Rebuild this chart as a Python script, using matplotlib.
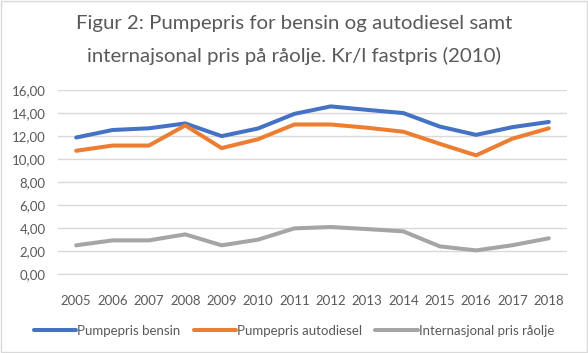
import matplotlib.pyplot as plt
from matplotlib.patches import Rectangle

plt.rcParams['font.family'] = ['Lato', 'DejaVu Sans']

years = ['2005', '2006', '2007', '2008', '2009', '2010', '2011',
         '2012', '2013', '2014', '2015', '2016', '2017', '2018']
bensin = [11.85, 12.5, 12.65, 13.07, 11.97, 12.63, 13.9,
          14.55, 14.25, 13.97, 12.8, 12.08, 12.75, 13.2]
diesel = [10.7, 11.15, 11.15, 12.9, 10.93, 11.7, 12.98,
          12.98, 12.7, 12.35, 11.3, 10.3, 11.75, 12.65]
olje = [2.49, 2.92, 2.92, 3.44, 2.49, 2.98, 3.96,
        4.08, 3.9, 3.7, 2.4, 2.05, 2.5, 3.1]

txt = '#595959'
fig = plt.figure(figsize=(5.88, 3.53), dpi=100)
ax = fig.add_axes([58 / 588, 1 - 274 / 353, (567 - 58) / 588, (274 - 89.7) / 353])

x = range(len(years))
ax.plot(x, bensin, color='#4472C4', lw=2.9, label='Pumpepris bensin', solid_capstyle='round')
ax.plot(x, diesel, color='#ED7D31', lw=2.9, label='Pumpepris autodiesel', solid_capstyle='round')
ax.plot(x, olje, color='#A5A5A5', lw=2.9, label='Internasjonal pris råolje', solid_capstyle='round')

ax.set_xlim(-0.5, len(years) - 0.5)
ax.set_ylim(0, 16)
ax.set_yticks(range(0, 17, 2))
ax.set_yticklabels([f'{v},00' for v in range(0, 17, 2)])
ax.set_xticks(list(x))
ax.set_xticklabels(years)
ax.grid(axis='y', color='#D9D9D9', lw=1)
ax.set_axisbelow(True)
for s in ['top', 'right', 'left']:
    ax.spines[s].set_visible(False)
ax.spines['bottom'].set_color('#D9D9D9')
ax.tick_params(length=0, colors=txt, labelsize=9.5)
ax.tick_params(axis='x', pad=15)
ax.tick_params(axis='y', pad=9)

fig.text(0.5, 1 - 23 / 353, 'Figur 2: Pumpepris for bensin og autodiesel samt',
         ha='center', va='center', fontsize=14.7, color=txt)
fig.text(0.5, 1 - 56 / 353, 'internajsonal pris på råolje. Kr/l fastpris (2010)',
         ha='center', va='center', fontsize=14.7, color=txt)

fig.legend(loc='center', bbox_to_anchor=(0.5, 1 - 331 / 353), ncol=3, frameon=False,
           fontsize=9.5, labelcolor=txt, handlelength=3.2, handletextpad=0.1,
           columnspacing=1.0)

fig.patches.append(Rectangle((1 / 588, 1 / 353), 586 / 588, 351 / 353, transform=fig.transFigure,
                             fill=False, edgecolor='#D9D9D9', lw=1))

fig.savefig('out.png', dpi=100)
